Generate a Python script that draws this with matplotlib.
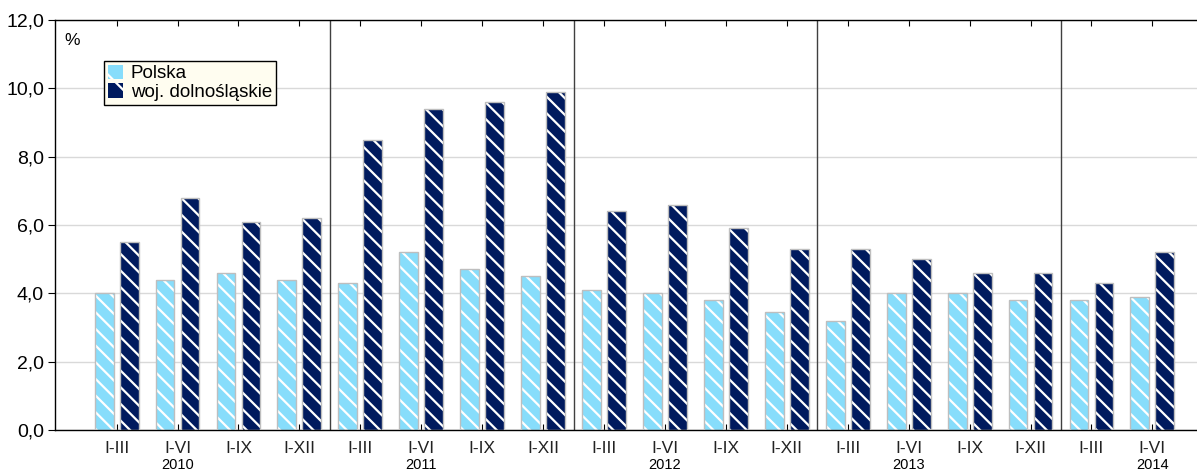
"""Bar chart: Polska vs woj. dolnośląskie, quarterly cumulative periods 2010-2014."""

import matplotlib

matplotlib.use("Agg")
import matplotlib.pyplot as plt
import numpy as np
from matplotlib.patches import Patch

plt.rcParams["font.family"] = ["Liberation Sans", "DejaVu Sans"]
plt.rcParams["hatch.linewidth"] = 1.6

periods = ["I-III", "I-VI", "I-IX", "I-XII"] * 4 + ["I-III", "I-VI"]
years = ["2010", "2011", "2012", "2013", "2014"]
polska = [4.0, 4.4, 4.6, 4.4,
          4.3, 5.2, 4.7, 4.5,
          4.1, 4.0, 3.8, 3.45,
          3.2, 4.0, 4.0, 3.8,
          3.8, 3.9]
dolnoslaskie = [5.5, 6.8, 6.1, 6.2,
                8.5, 9.4, 9.6, 9.9,
                6.4, 6.6, 5.9, 5.3,
                5.3, 5.0, 4.6, 4.6,
                4.3, 5.2]

LIGHT = "#87DDFB"
DARK = "#001A5E"
EDGE = "#BEBEBE"

figure = plt.figure(figsize=(11.97, 4.72), dpi=100)
axis = figure.add_axes([0.046, 0.089, 0.96, 0.8686])

x = np.arange(len(periods))
width = 0.31
offset = 0.205

for values, color, shift in ((polska, LIGHT, -offset), (dolnoslaskie, DARK, offset)):
    # hatch colour follows edgecolor, so fill+hatch first, then the grey outline
    axis.bar(x + shift, values, width, color=color, edgecolor="white",
             hatch="\\\\", linewidth=0, zorder=2)
    axis.bar(x + shift, values, width, facecolor="none", edgecolor=EDGE,
             linewidth=1.0, zorder=3)

for boundary in (3.5, 7.5, 11.5, 15.5):
    axis.axvline(boundary, color="#404040", linewidth=1.0, zorder=1)

axis.set_ylim(0, 12)
axis.set_xlim(-1.01, 17.85)
axis.set_yticks(np.arange(0, 12.1, 2))
axis.set_yticklabels([f"{v:.1f}".replace(".", ",") for v in np.arange(0, 12.1, 2)],
                     fontsize=14)
axis.yaxis.grid(True, color="#D9D9D9", linewidth=1.0, zorder=0)
axis.set_axisbelow(True)

axis.set_xticks(x)
axis.set_xticklabels(periods, fontsize=12.5, color="#222222")
axis.tick_params(axis="x", direction="in", top=True, length=4, pad=8)
axis.tick_params(axis="y", direction="out", length=5, pad=3)
axis.spines["right"].set_visible(False)
for name in ("left", "bottom", "top"):
    axis.spines[name].set_linewidth(1.0)

for i, year in enumerate(years):
    axis.text(i * 4 + 1, -0.068, year, transform=axis.get_xaxis_transform(),
              ha="center", va="top", fontsize=10.5)

axis.text(0.008, 0.968, "%", transform=axis.transAxes, ha="left", va="top", fontsize=12.5)

handles = [
    Patch(facecolor=LIGHT, edgecolor="white", hatch="\\", linewidth=0),
    Patch(facecolor=DARK, edgecolor="white", hatch="\\", linewidth=0),
]
legend = axis.legend(handles, ["Polska", "woj. dolnośląskie"], loc="upper left",
                     bbox_to_anchor=(0.043, 0.9), fontsize=13.5, frameon=True,
                     fancybox=False, handlelength=0.8, handleheight=0.8,
                     handletextpad=0.4, borderpad=0.2, labelspacing=0.05,
                     borderaxespad=0)
legend.get_frame().set_edgecolor("black")
legend.get_frame().set_facecolor("#FFFDF0")
legend.get_frame().set_linewidth(1.0)
legend.get_frame().set_alpha(1)

figure.savefig("out.png", dpi=100)
